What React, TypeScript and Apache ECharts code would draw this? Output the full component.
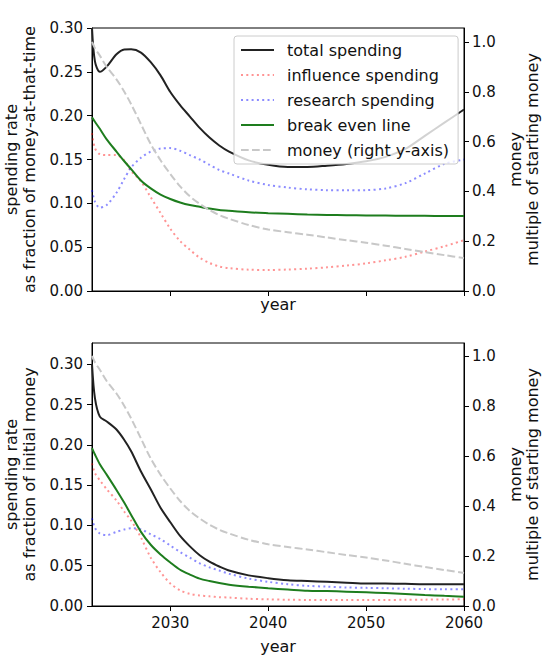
import React, { useEffect, useRef } from "react";
import * as echarts from "echarts";

const years = [2022, 2022.3, 2022.8, 2023.5, 2024.5, 2025.3, 2026, 2027, 2028, 2029, 2030, 2031, 2032, 2033, 2034, 2035, 2036, 2038, 2040, 2042, 2044, 2046, 2048, 2050, 2052, 2054, 2056, 2058, 2060];

// top panel: fraction of money-at-that-time
const topTotal = [0.300, 0.262, 0.250, 0.256, 0.270, 0.2755, 0.2757, 0.272, 0.261, 0.246, 0.227, 0.212, 0.199, 0.186, 0.175, 0.166, 0.159, 0.149, 0.144, 0.1415, 0.1415, 0.143, 0.145, 0.148, 0.153, 0.162, 0.177, 0.192, 0.207];
const topInfluence = [0.180, 0.163, 0.156, 0.155, 0.155, 0.149, 0.137, 0.125, 0.107, 0.089, 0.071, 0.057, 0.047, 0.038, 0.032, 0.028, 0.026, 0.0243, 0.024, 0.0245, 0.0255, 0.027, 0.029, 0.0315, 0.035, 0.039, 0.045, 0.051, 0.058];
const topResearch = [0.115, 0.102, 0.095, 0.098, 0.112, 0.128, 0.141, 0.152, 0.159, 0.1625, 0.163, 0.160, 0.155, 0.150, 0.144, 0.138, 0.134, 0.126, 0.121, 0.118, 0.116, 0.115, 0.1148, 0.115, 0.117, 0.123, 0.134, 0.145, 0.150];
const topBreakEven = [0.198, 0.193, 0.185, 0.173, 0.159, 0.148, 0.139, 0.126, 0.117, 0.110, 0.105, 0.101, 0.098, 0.096, 0.094, 0.0925, 0.0915, 0.0898, 0.0888, 0.0880, 0.0873, 0.0868, 0.0865, 0.0862, 0.086, 0.0858, 0.0857, 0.0856, 0.0855];

// money (right axis), multiple of starting money
const money = [1.0, 0.975, 0.945, 0.90, 0.85, 0.80, 0.75, 0.67, 0.59, 0.525, 0.47, 0.42, 0.38, 0.35, 0.325, 0.305, 0.29, 0.265, 0.247, 0.236, 0.226, 0.215, 0.204, 0.194, 0.182, 0.169, 0.156, 0.144, 0.132];

// bottom panel: fraction of initial money
const botTotal = [0.300, 0.258, 0.235, 0.229, 0.219, 0.206, 0.192, 0.167, 0.145, 0.122, 0.104, 0.087, 0.074, 0.063, 0.055, 0.049, 0.044, 0.038, 0.0345, 0.032, 0.031, 0.030, 0.029, 0.028, 0.028, 0.0275, 0.027, 0.027, 0.027];
const botInfluence = [0.177, 0.165, 0.156, 0.145, 0.131, 0.117, 0.106, 0.085, 0.060, 0.042, 0.028, 0.0195, 0.015, 0.013, 0.012, 0.011, 0.0105, 0.009, 0.0083, 0.0078, 0.0075, 0.0073, 0.0073, 0.0074, 0.0075, 0.0077, 0.0079, 0.0081, 0.0083];
const botResearch = [0.109, 0.097, 0.090, 0.088, 0.092, 0.095, 0.0965, 0.095, 0.089, 0.083, 0.075, 0.067, 0.060, 0.053, 0.048, 0.044, 0.040, 0.034, 0.030, 0.027, 0.025, 0.024, 0.023, 0.0225, 0.022, 0.0215, 0.021, 0.0208, 0.0207];
const botBreakEven = [0.196, 0.188, 0.176, 0.163, 0.144, 0.128, 0.113, 0.092, 0.076, 0.064, 0.054, 0.045, 0.039, 0.034, 0.031, 0.0285, 0.0265, 0.024, 0.022, 0.0205, 0.019, 0.0185, 0.0178, 0.017, 0.016, 0.015, 0.0137, 0.0126, 0.0116];

const xTicks = [2030, 2040, 2050, 2060];
const leftTicks = [0, 0.05, 0.1, 0.15, 0.2, 0.25, 0.3];
const rightTicks = [0, 0.2, 0.4, 0.6, 0.8, 1.0];

const names = ["total spending", "influence spending", "research spending", "break even line", "money (right y-axis)"];

const FONT = "DejaVu Sans";
const TXT = "#111";
const TICK_FS = 15;
const NAME_FS = 16;

const pts = (arr: number[]) => years.map((y, i) => [y, arr[i]]);

export default function App() {
  const ref = useRef<HTMLDivElement>(null);
  useEffect(() => {
    if (!ref.current) return;
    const chart = echarts.init(ref.current, undefined, { renderer: "svg" });

    const styles = [
      { color: "#222", type: "solid" as any },
      { color: "rgba(255,0,0,0.42)", type: [2, 3.3] as any },
      { color: "rgba(0,0,255,0.45)", type: [2, 3.3] as any },
      { color: "#1e7d1e", type: "solid" as any },
      { color: "#c8c8c8", type: [7.7, 3.3] as any },
    ];

    const mkSeries = (name: string, idx: number, data: number[], xi: number, yi: number) => ({
      name,
      type: "line",
      xAxisIndex: xi,
      yAxisIndex: yi,
      data: pts(data),
      showSymbol: false,
      symbol: "none",
      smooth: 0.3,
      color: styles[idx].color,
      lineStyle: { width: 2, color: styles[idx].color, type: styles[idx].type, cap: "butt" },
      z: idx === 4 ? 3 : 2,
    });

    const xAxisBase = (gi: number, showLabels: boolean, nameGap: number) => ({
      type: "value",
      gridIndex: gi,
      min: 2022,
      max: 2060,
      name: "year",
      nameLocation: "middle",
      nameGap,
      nameTextStyle: { fontFamily: FONT, fontSize: NAME_FS, color: TXT },
      axisLine: { show: true, onZero: false, lineStyle: { color: "#000", width: 1 } },
      axisTick: { show: true, length: 5, customValues: xTicks, lineStyle: { color: "#000", width: 1 } },
      axisLabel: { show: showLabels, customValues: xTicks, margin: 9, fontFamily: FONT, fontSize: TICK_FS, color: TXT, formatter: (v: number) => String(Math.round(v)) },
      splitLine: { show: false },
    });

    const leftAxis = (gi: number, max: number, name: string) => ({
      type: "value",
      gridIndex: gi,
      position: "left",
      min: 0,
      max,
      name,
      nameLocation: "middle",
      nameGap: 50,
      nameTextStyle: { fontFamily: FONT, fontSize: NAME_FS, color: TXT, lineHeight: 18, align: "center" },
      axisLine: { show: true, lineStyle: { color: "#000", width: 1 } },
      axisTick: { show: true, length: 5, customValues: leftTicks, lineStyle: { color: "#000", width: 1 } },
      axisLabel: { customValues: leftTicks, margin: 9, fontFamily: FONT, fontSize: TICK_FS, color: TXT, formatter: (v: number) => v.toFixed(2) },
      splitLine: { show: false },
    });

    const rightAxis = (gi: number, max: number) => ({
      type: "value",
      gridIndex: gi,
      position: "right",
      min: 0,
      max,
      name: "money\nmultiple of starting money",
      nameLocation: "middle",
      nameGap: 41,
      nameTextStyle: { fontFamily: FONT, fontSize: NAME_FS, color: TXT, lineHeight: 17, align: "center" },
      axisLine: { show: true, lineStyle: { color: "#000", width: 1 } },
      axisTick: { show: true, length: 5, customValues: rightTicks, lineStyle: { color: "#000", width: 1 } },
      axisLabel: { customValues: rightTicks, margin: 8, fontFamily: FONT, fontSize: TICK_FS, color: TXT, formatter: (v: number) => v.toFixed(1) },
      splitLine: { show: false },
    });

    const option: any = {
      animation: false,
      backgroundColor: "#fff",
      textStyle: { fontFamily: FONT },
      grid: [
        { left: 92, width: 372, top: 28, height: 263, show: true, borderColor: "#000", borderWidth: 1, backgroundColor: "transparent", containLabel: false, outerBoundsMode: "none" },
        { left: 92, width: 372, top: 343, height: 263, show: true, borderColor: "#000", borderWidth: 1, backgroundColor: "transparent", containLabel: false, outerBoundsMode: "none" },
      ],
      xAxis: [xAxisBase(0, false, 5), xAxisBase(1, true, 32)],
      yAxis: [
        leftAxis(0, 0.3, "spending rate\nas fraction of money-at-that-time"),
        rightAxis(0, 1.056),
        leftAxis(1, 0.3264, "spending rate\nas fraction of initial money"),
        rightAxis(1, 1.052),
      ],
      legend: {
        data: names,
        orient: "vertical",
        left: 234,
        top: 36,
        itemWidth: 33,
        itemHeight: 14,
        itemGap: 9,
        padding: [6, 9, 6, 6],
        backgroundColor: "rgba(255,255,255,0.8)",
        borderColor: "#ccc",
        borderWidth: 1,
        borderRadius: 3,
        itemStyle: { color: "transparent", borderWidth: 0, opacity: 0 },
        textStyle: { fontFamily: FONT, fontSize: NAME_FS, lineHeight: 16, color: TXT, padding: [0, 0, 0, 8] },
        selectedMode: false,
      },
      series: [
        mkSeries(names[0], 0, topTotal, 0, 0),
        mkSeries(names[1], 1, topInfluence, 0, 0),
        mkSeries(names[2], 2, topResearch, 0, 0),
        mkSeries(names[3], 3, topBreakEven, 0, 0),
        mkSeries(names[4], 4, money, 0, 1),
        mkSeries(names[0], 0, botTotal, 1, 2),
        mkSeries(names[1], 1, botInfluence, 1, 2),
        mkSeries(names[2], 2, botResearch, 1, 2),
        mkSeries(names[3], 3, botBreakEven, 1, 2),
        mkSeries(names[4], 4, money, 1, 3),
      ],
    };
    chart.setOption(option);
    return () => chart.dispose();
  }, []);
  return <div ref={ref} style={{ position: "fixed", left: 0, top: 0, width: 544, height: 667, background: "#fff" }} />;
}
